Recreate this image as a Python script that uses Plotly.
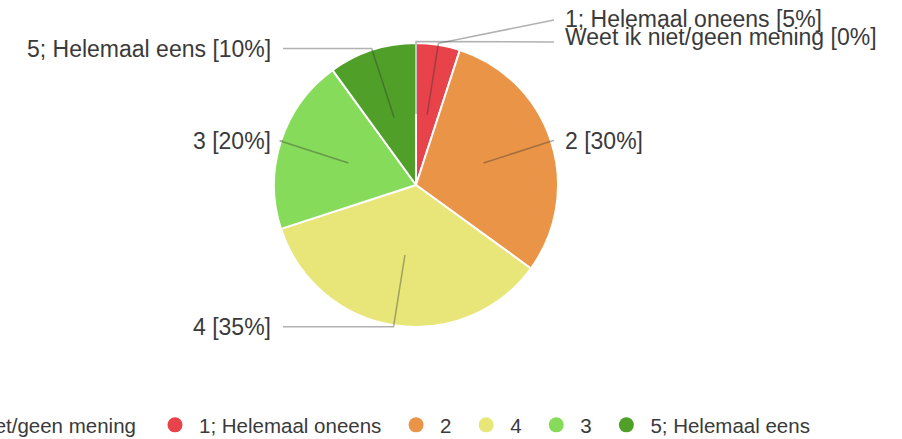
import math
import plotly.graph_objects as go

# ---- data ----
categories = ["Weet ik niet/geen mening", "1; Helemaal oneens", "2", "4", "3", "5; Helemaal eens"]
values = [0, 5, 30, 35, 20, 10]
colors = ["#3f6fcf", "#e8434a", "#ea9447", "#e8e679", "#86db5a", "#4f9f29"]

# ---- geometry (pixels of the 902x439 canvas) ----
W, H = 902, 439
CX, CY, R = 416, 185, 142
FONT = "Arial, Liberation Sans, sans-serif"
TEXT_COLOR = "#3a3a3a"
LINE_COLOR = "rgba(50,50,50,0.38)"
RIGHT_X_LINE, RIGHT_X_TEXT = 554, 563
LEFT_X_LINE, LEFT_X_TEXT = 283, 273
label_y_override = {"1; Helemaal oneens": 19, "Weet ik niet/geen mening": 37}
line_y_override = {"1; Helemaal oneens": 20, "Weet ik niet/geen mening": 42}


def px(x):
    return x / W


def py(y):
    return (H - y) / H


fig = go.Figure()
fig.add_trace(go.Pie(
    labels=categories, values=values, sort=False, direction="clockwise", rotation=0,
    marker=dict(colors=colors, line=dict(color="white", width=2)),
    textinfo="none", hoverinfo="label+percent", showlegend=False,
    domain=dict(x=[px(CX - R), px(CX + R)], y=[py(CY + R), py(CY - R)]),
))

total = sum(values)
cum = 0
shapes = []
annotations = []
for name, v in zip(categories, values):
    theta = 2 * math.pi * (cum + v / 2) / total
    cum += v
    s, c = math.sin(theta), math.cos(theta)
    x0, y0 = CX + 0.5 * R * s, CY - 0.5 * R * c
    x1, y1 = CX + 1.01 * R * s, CY - 1.01 * R * c
    right = s >= -1e-9
    ly = label_y_override.get(name, y1)
    le = line_y_override.get(name, y1)
    xe = RIGHT_X_LINE if right else LEFT_X_LINE
    path = f"M {px(x0)} {py(y0)} L {px(x1)} {py(y1)} L {px(xe)} {py(le)}"
    shapes.append(dict(type="path", path=path, xref="paper", yref="paper",
                       line=dict(color=LINE_COLOR, width=1.5)))
    pct = round(100 * v / total)
    annotations.append(dict(
        text=f"{name} [{pct}%]", x=px(RIGHT_X_TEXT if right else LEFT_X_TEXT), y=py(ly),
        xref="paper", yref="paper", xanchor="left" if right else "right", yanchor="middle",
        showarrow=False, font=dict(family=FONT, size=23, color=TEXT_COLOR)))

# legend entries (circle markers); first entry sits in its own legend, mostly off-canvas
for i, (name, col) in enumerate(zip(categories, colors)):
    fig.add_trace(go.Scatter(x=[None], y=[None], mode="markers", name=name + "\u00a0",
                             marker=dict(color=col, size=15, symbol="circle"),
                             showlegend=True, legend="legend2" if i == 0 else "legend"))

legend_common = dict(orientation="h", xanchor="left", y=py(425), yanchor="middle",
                     itemwidth=38, font=dict(family=FONT, size=20.5, color=TEXT_COLOR),
                     bgcolor="rgba(0,0,0,0)", traceorder="normal", borderwidth=0)

fig.update_layout(
    width=W, height=H,
    margin=dict(l=0, r=0, t=0, b=0, autoexpand=False),
    paper_bgcolor="white", plot_bgcolor="white",
    xaxis=dict(visible=False), yaxis=dict(visible=False),
    shapes=shapes, annotations=annotations,
    showlegend=True,
    legend=dict(x=px(151), **legend_common),
    legend2=dict(x=px(-143), **legend_common),
)

fig.write_html("out.html", config={"displayModeBar": False},
               post_script="document.body.style.margin='0';document.body.style.overflow='hidden';")
